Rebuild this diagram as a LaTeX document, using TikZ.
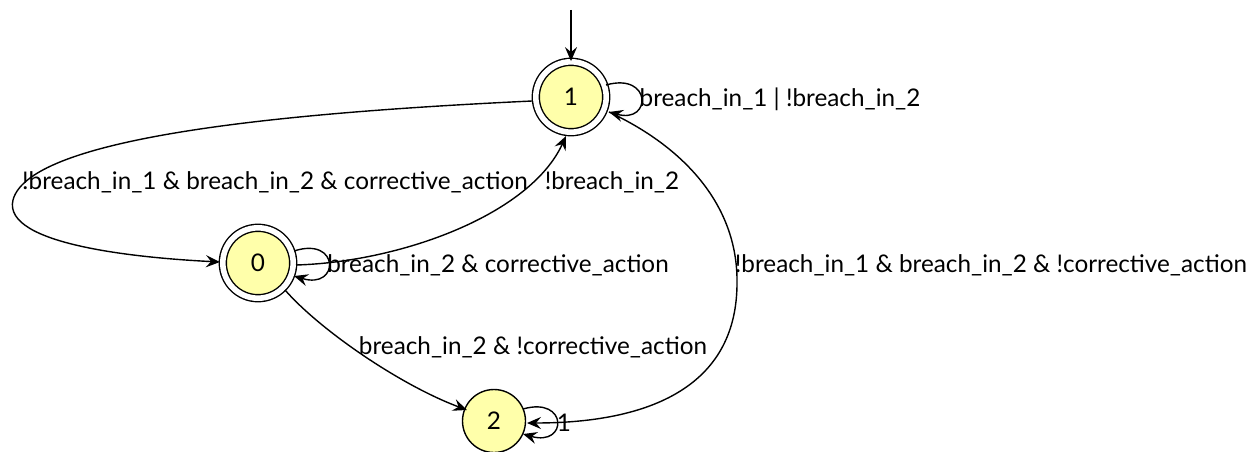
\documentclass[tikz,border=0pt]{standalone}
\usepackage{fontspec}
\setmainfont{Lato}
\usetikzlibrary{arrows.meta}
\definecolor{statefill}{HTML}{FFFFAA}
\tikzset{
  every picture/.style={line width=1.4pt},
  state/.style={circle, draw, fill=statefill, minimum size=63pt, inner sep=0pt, font=\fontsize{24.3}{28}\selectfont},
  accepting/.style={double, double distance=5.6pt, minimum size=70.4pt},
  lbl/.style={anchor=base, inner sep=0pt, font=\fontsize{24.3}{28}\selectfont},
  edge/.style={-{Stealth[length=14pt,width=12pt,inset=5pt]}},
}
\begin{document}
\begin{tikzpicture}[x=1pt, y=-1pt]
  \useasboundingbox (0,0) rectangle (1250,452);

  % states
  \node[state, accepting] (s1) at (571,97) {1};
  \node[state, accepting] (s0) at (258,263) {0};
  \node[state] (s2) at (494,421) {2};

  % initial arrow
  \coordinate (init) at (571,10);
  \draw[edge] (init) -- (s1.north);

  % anchor points on the state borders
  \coordinate (a1w)  at (532,101);
  \coordinate (a1l)  at (566,136);
  \coordinate (a1r)  at (609,112);
  \coordinate (a1t)  at (606,85);
  \coordinate (a0w)  at (220,262);
  \coordinate (a0e)  at (296,265);
  \coordinate (a0t)  at (294,251);
  \coordinate (a0b)  at (294,276);
  \coordinate (a0se) at (285,290);
  \coordinate (a2nw) at (467,410);
  \coordinate (a2e)  at (527,423);
  \coordinate (a2t)  at (523,409);
  \coordinate (a2b)  at (523,434);

  % 1 -> 1
  \draw[edge] (a1t) .. controls (652,72) and (652,124) .. (a1r);
  \node[lbl] (l11) at (780,106) {breach\_in\_1 | !breach\_in\_2};

  % 1 -> 0
  \draw[edge] (a1w) .. controls (300,112) and (30,135) .. (13,200)
                    .. controls (2,245) and (140,258) .. (a0w);
  \node[lbl] (l10) at (275,189) {!breach\_in\_1 \& breach\_in\_2 \& corrective\_action};

  % 0 -> 1
  \draw[edge] (a0e) .. controls (400,262) and (530,215) .. (a1l);
  \node[lbl] (l01) at (612,189) {!breach\_in\_2};

  % 0 -> 0
  \draw[edge] (a0t) .. controls (340,236) and (340,290) .. (a0b);
  \node[lbl] (l00) at (498,272) {breach\_in\_2 \& corrective\_action};

  % 0 -> 2
  \draw[edge] (a0se) .. controls (320,330) and (400,385) .. (a2nw);
  \node[lbl] (l02) at (533,354) {breach\_in\_2 \& !corrective\_action};

  % 1 -> 2
  \draw[edge] (a1r) .. controls (690,150) and (738,210) .. (737,283)
                    .. controls (737,380) and (660,423) .. (a2e);
  \node[lbl] (l12) at (991,272) {!breach\_in\_1 \& breach\_in\_2 \& !corrective\_action};

  % 2 -> 2
  \draw[edge] (a2t) .. controls (568,396) and (568,447) .. (a2b);
  \node[lbl] (l22) at (564,431) {1};
\end{tikzpicture}
\end{document}
